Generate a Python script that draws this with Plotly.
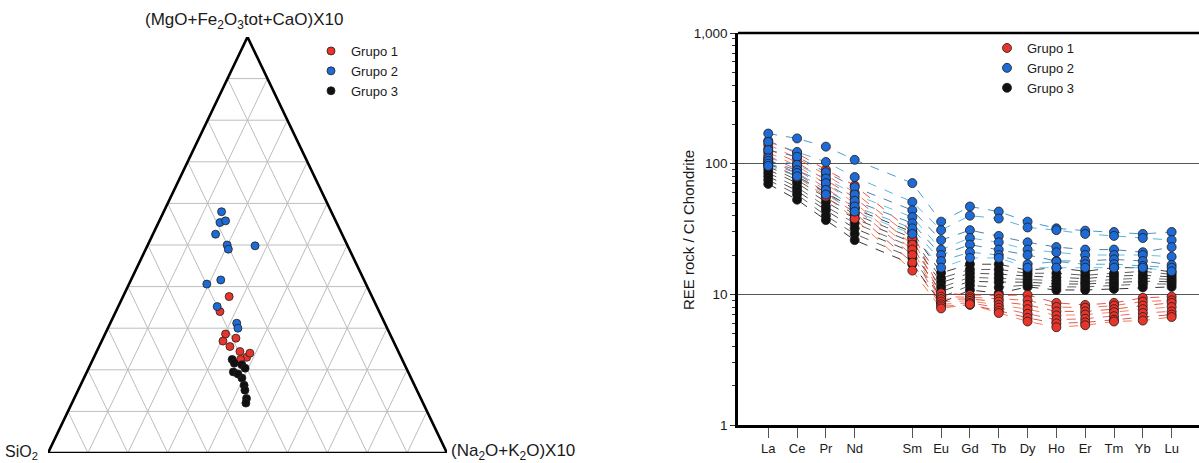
import plotly.graph_objects as go

W, H = 1199, 463

# ---------------- Ternary data (percent): A=(MgO+Fe2O3tot+CaO)X10, B=SiO2, C=(Na2O+K2O)X10
g1_A = [37.6, 34.0, 28.6, 27.6, 26.9, 25.6, 24.4, 23.0, 22.5, 24.0]
g1_C = [26.6, 26.1, 30.2, 33.3, 30.4, 32.8, 35.9, 38.3, 37.0, 38.6]
g2_A = [58.0, 55.4, 55.8, 52.6, 50.0, 49.0, 49.8, 40.6, 41.6, 35.2, 31.2, 30.0]
g2_C = [14.5, 15.4, 16.6, 15.7, 19.9, 20.7, 27.0, 19.5, 22.5, 24.8, 31.7, 32.6]
g3_A = [22.5, 21.6, 21.2, 20.4, 19.5, 18.0, 16.3, 15.1, 13.1, 12.0, 19.0]
g3_C = [34.9, 35.9, 38.0, 39.2, 36.7, 39.6, 41.0, 41.8, 43.2, 43.6, 38.1]

grid_steps = [10, 20, 30, 40, 50, 60, 70, 80, 90]

# ---------------- REE data (rock / CI chondrite)
elements = ["La", "Ce", "Pr", "Nd", "Sm", "Eu", "Gd", "Tb", "Dy", "Ho", "Er", "Tm", "Yb", "Lu"]
atomic_no = [57, 58, 59, 60, 62, 63, 64, 65, 66, 67, 68, 69, 70, 71]

ree_g1 = [
    [150, 120, 90, 68, 30, 10.2, 9.9, 9.8, 9.9, 8.6, 8.3, 8.6, 9.4, 9.6],
    [140, 110, 82, 60, 27, 9.6, 9.5, 9.2, 9.0, 8.0, 7.9, 8.2, 8.8, 9.0],
    [130, 102, 75, 55, 24, 9.2, 9.2, 8.8, 8.3, 7.4, 7.4, 7.7, 8.2, 8.6],
    [122, 96, 70, 50, 22, 8.8, 8.9, 8.3, 7.7, 6.9, 7.0, 7.3, 7.7, 8.0],
    [115, 90, 65, 46, 20, 8.4, 8.6, 7.9, 7.1, 6.4, 6.5, 6.8, 7.2, 7.4],
    [108, 84, 60, 42, 17.5, 8.1, 8.3, 7.5, 6.6, 6.0, 6.1, 6.4, 6.7, 7.0],
    [102, 79, 56, 38, 15.2, 7.8, 8.4, 7.2, 6.2, 5.6, 5.8, 6.2, 6.3, 6.7],
]
ree_g2 = [
    [170, 156, 135, 107, 71, 36, 47, 43, 36, 32, 30.7, 30, 29, 30],
    [147, 123, 103, 79, 51, 31, 40, 38, 32.5, 31, 29, 28, 27, 26],
    [127, 113, 86, 66, 44, 26, 31, 28, 25, 23, 22, 22, 21, 23],
    [110, 98, 77, 58, 39, 22, 27, 25, 22, 21, 20, 20, 20, 19.4],
    [105, 89, 71, 52, 35, 20, 24, 22, 20, 18, 18, 18.5, 18, 16.8],
    [100, 85, 63, 47, 32, 18, 21, 20, 17, 17.8, 17, 17, 16.5, 16],
    [96, 80, 58, 43, 29, 16, 19, 19, 16, 16, 16, 16, 16, 15],
]
ree_g3 = [
    [100, 80, 60, 45, 30, 14.6, 17, 17, 15.3, 16, 15, 16, 16, 14.8],
    [95, 75, 55, 41, 27, 13.3, 15.5, 15.5, 14.5, 14.5, 14, 14.5, 15, 14.2],
    [90, 71, 51, 38, 25, 12.3, 14.5, 14.3, 13.8, 13.5, 13.2, 13.8, 14, 13.6],
    [85, 66, 47, 35, 23, 11.3, 13.5, 13.3, 13.0, 12.7, 12.5, 13, 13.3, 13],
    [80, 62, 44, 32, 21, 10.5, 12.6, 12.4, 12.4, 12, 12, 12.3, 12.6, 12.5],
    [75, 58, 40, 29, 19, 9.5, 11.7, 11.3, 11.8, 11.4, 11.4, 11.7, 12, 12],
    [70, 53, 37, 26, 17, 8.6, 10.8, 10.2, 11.4, 10.8, 10.8, 11, 11.3, 11.4],
]

y_tickvals = [1, 10, 100, 1000]
y_ticktext = ["1", "10", "100", "1,000"]
y_minor = [m * 10 ** d for d in range(3) for m in range(2, 10)]

group_names = ["Grupo 1", "Grupo 2", "Grupo 3"]
RED, BLUE, BLACK = "#e8352b", "#1f6bd6", "#111111"
line_cols_1 = ["#e8281e", "#f04a1a", "#d9302c", "#f26b2a", "#e0405a", "#c83020", "#f5581f"]
line_cols_2 = ["#1c7fc0", "#2aa0d8", "#1f5fa0", "#3bb0e0", "#176aa8", "#2c90c8", "#48b8e8"]
line_cols_3 = ["#111111", "#333333", "#222222", "#444444", "#1a1a1a", "#3a3a3a", "#000000"]

FONT = "Liberation Sans, Arial, sans-serif"
TXT = "#1a1a1a"

fig = go.Figure()

# ---------- ternary grid & frame (unit triangle: left=(0,0), right=(1,0), top=(0.5,1))
gx, gy = [], []
for s in grid_steps:
    a = s / 100.0
    gx += [a / 2, 1 - a / 2, None]; gy += [a, a, None]          # constant A
    gx += [a, a + (1 - a) / 2, None]; gy += [0, 1 - a, None]      # constant C
    gx += [1 - a, (1 - a) / 2, None]; gy += [0, 1 - a, None]      # constant B
fig.add_trace(go.Scatter(x=gx, y=gy, mode="lines", line=dict(color="#bdbdbd", width=1),
                         hoverinfo="skip", showlegend=False, xaxis="x", yaxis="y"))
fig.add_trace(go.Scatter(x=[0, 1, 0.5, 0], y=[0, 0, 1, 0], mode="lines",
                         line=dict(color="black", width=2.6), hoverinfo="skip",
                         showlegend=False, xaxis="x", yaxis="y", cliponaxis=False))

def tern_xy(A, C):
    xs = [c / 100 + a / 200 for a, c in zip(A, C)]
    ys = [a / 100 for a in A]
    return xs, ys

for name, A, C, col in [(group_names[0], g1_A, g1_C, RED),
                        (group_names[1], g2_A, g2_C, BLUE),
                        (group_names[2], g3_A, g3_C, BLACK)]:
    xs, ys = tern_xy(A, C)
    fig.add_trace(go.Scatter(x=xs, y=ys, mode="markers", name=name,
                             marker=dict(color=col, size=8, line=dict(color="#202020", width=0.8)),
                             xaxis="x", yaxis="y", legend="legend"))

# ---------- REE lines
for data, cols in [(ree_g3, line_cols_3), (ree_g1, line_cols_1), (ree_g2, line_cols_2)]:
    for i, row in enumerate(data):
        fig.add_trace(go.Scatter(x=atomic_no, y=row, mode="lines",
                                 line=dict(color=cols[i % len(cols)], width=0.8, dash="dash"),
                                 hoverinfo="skip", showlegend=False, xaxis="x2", yaxis="y2"))

# ---------- REE markers (one trace per group)
for name, data, col, rank in [(group_names[2], ree_g3, BLACK, 3),
                              (group_names[0], ree_g1, RED, 1),
                              (group_names[1], ree_g2, BLUE, 2)]:
    xs, ys = [], []
    for row in data:
        xs += atomic_no; ys += row
    fig.add_trace(go.Scatter(x=xs, y=ys, mode="markers", name=name, legendrank=rank,
                             marker=dict(color=col, size=9, line=dict(color="#1a1a1a", width=0.8)),
                             xaxis="x2", yaxis="y2", legend="legend2"))

def px(x):
    return x / W

def py(y):
    return 1 - y / H

fig.update_layout(
    width=W, height=H, margin=dict(l=0, r=0, t=0, b=0, autoexpand=False),
    paper_bgcolor="white", plot_bgcolor="white",
    font=dict(family=FONT, size=13, color=TXT),
    xaxis=dict(domain=[px(48), px(447)], range=[0, 1], visible=False, fixedrange=True),
    yaxis=dict(domain=[py(453), py(37)], range=[0, 1], visible=False, fixedrange=True),
    xaxis2=dict(domain=[px(738), 1.0], range=[55.95, 71.95], tickvals=atomic_no, ticktext=elements,
                showgrid=False, zeroline=False, showline=True, linecolor="black", linewidth=2.5,
                ticks="outside", ticklen=10, tickcolor="#555", tickwidth=1,
                tickfont=dict(size=13, color=TXT), anchor="y2", automargin=False),
    yaxis2=dict(domain=[py(425), py(33)], type="log", range=[0, 3],
                tickvals=y_tickvals, ticktext=y_ticktext,
                showgrid=True, gridcolor="#555555", gridwidth=1.4, zeroline=False,
                showline=True, linecolor="black", linewidth=2.5,
                ticks="outside", ticklen=5, tickcolor="#333", tickwidth=1,
                minor=dict(tickvals=y_minor, ticks="outside", ticklen=3, tickcolor="#333", showgrid=False),
                tickfont=dict(size=13.5, color=TXT), anchor="x2", automargin=False),
    legend=dict(x=px(311), y=py(36), xanchor="left", yanchor="top", bgcolor="rgba(0,0,0,0)",
                font=dict(size=13, color=TXT), tracegroupgap=0),
    legend2=dict(x=px(987), y=py(33), xanchor="left", yanchor="top", bgcolor="rgba(0,0,0,0)",
                 font=dict(size=13, color=TXT), traceorder="normal"),
    shapes=[dict(type="line", xref="x2 domain", yref="y2 domain", x0=0, x1=1, y0=1, y1=1,
                 line=dict(color="black", width=2.5))],
    annotations=[
        dict(text="(MgO+Fe<sub>2</sub>O<sub>3</sub>tot+CaO)X10", x=px(244), y=py(21), xref="paper", yref="paper",
             xanchor="center", yanchor="middle", showarrow=False, font=dict(size=17, color=TXT)),
        dict(text="SiO<sub>2</sub>", x=px(3), y=py(452), xref="paper", yref="paper", xanchor="left",
             yanchor="middle", showarrow=False, font=dict(size=16, color=TXT)),
        dict(text="(Na<sub>2</sub>O+K<sub>2</sub>O)X10", x=px(449), y=py(452), xref="paper", yref="paper",
             xanchor="left", yanchor="middle", showarrow=False, font=dict(size=17, color=TXT)),
        dict(text="REE rock / CI Chondrite", x=px(688), y=py(230), xref="paper", yref="paper",
             xanchor="center", yanchor="middle", textangle=-90, showarrow=False,
             font=dict(size=15, color=TXT)),
    ],
)

fig.write_html("out.html", config={"displayModeBar": False},
               post_script="document.body.style.margin='0';document.body.style.overflow='hidden';")
